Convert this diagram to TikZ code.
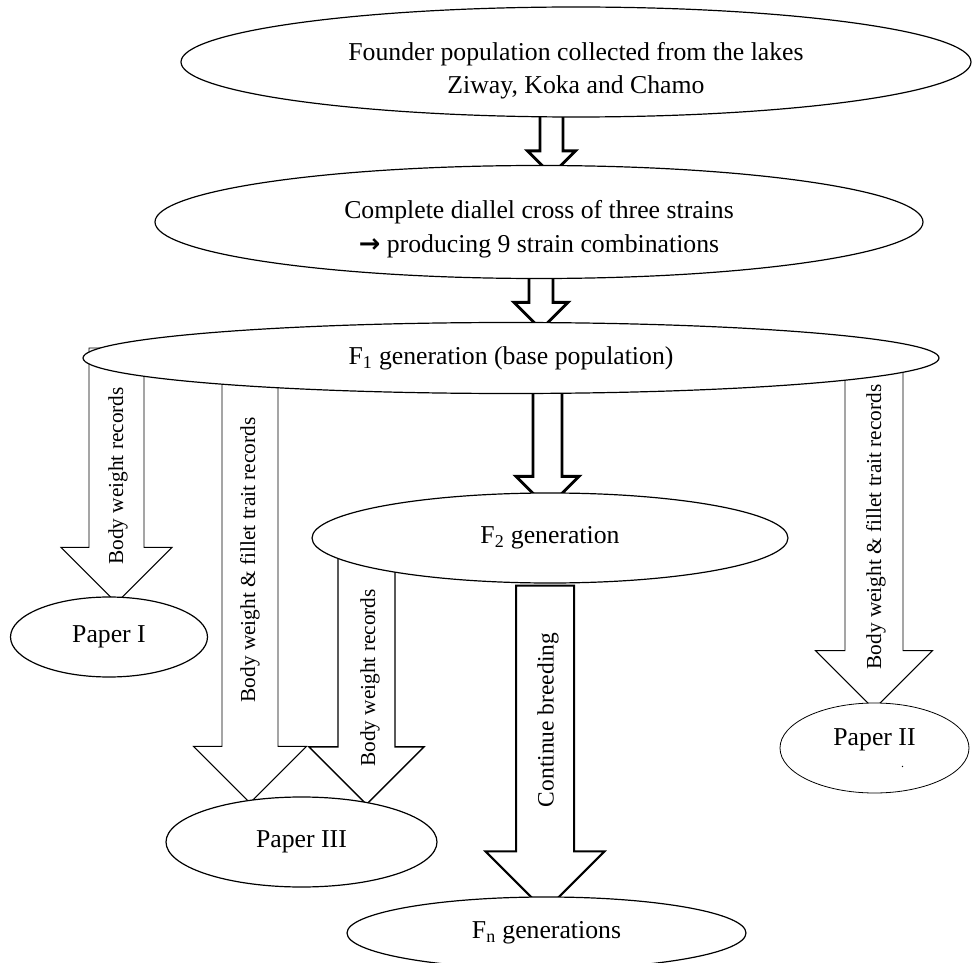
\documentclass[tikz,border=0pt]{standalone}
\usepackage{fontspec}
\setmainfont{Liberation Serif}
\newfontfamily\arrowfont{DejaVu Sans}
\usetikzlibrary{shapes.geometric,calc,backgrounds}

% hollow block arrow: start (only its y is used) and tip
\newcommand{\blockarrow}[5][]{%
 \draw[#1] let \p1=(#2), \p2=(#3) in
  ({\x2-#4*0.75pt},\y1) -- ({\x2-#4*0.75pt},{\y2+#5*0.75pt})
  -- ({\x2-#5*0.75pt},{\y2+#5*0.75pt}) -- (\x2,\y2)
  -- ({\x2+#5*0.75pt},{\y2+#5*0.75pt}) -- ({\x2+#4*0.75pt},{\y2+#5*0.75pt})
  -- ({\x2+#4*0.75pt},\y1) -- cycle;}

\tikzset{
 stage/.style={ellipse,draw,fill=white,line width=0.9pt,inner sep=0pt,
  align=center,font=\fontsize{19.3}{25}\selectfont},
 fat/.style={line width=2.2pt,fill=white,line join=miter},
 flow/.style={line width=0.7pt,fill=white},
 vlabel/.style={rotate=90,inner sep=0pt,font=\fontsize{16}{19}\selectfont},
}

\begin{document}
\begin{tikzpicture}[x=0.75pt,y=-0.75pt]
 \useasboundingbox (0,0) rectangle (972,963);

 \node[stage,minimum width=592.5pt,minimum height=82.5pt] (founder) at (576,62)
  {\rule{0pt}{27pt}Founder population collected from the lakes\\Ziway, Koka and Chamo};
 \node[stage,minimum width=576pt,minimum height=84.75pt] (diallel) at (539,222)
  {\rule{0pt}{24.5pt}Complete diallel cross of three strains\\{\arrowfont\bfseries →} producing 9 strain combinations};
 \node[stage,minimum width=642pt,minimum height=53.25pt] (fone) at (511,358)
  {F\textsubscript{1} generation (base population)};
 \node[stage,minimum width=357pt,minimum height=67.5pt] (ftwo) at (550,538)
  {F\textsubscript{2} generation};
 \node[stage,minimum width=147.75pt,minimum height=60pt] (paperone) at (109,637)
  {Paper I};
 \node[stage,minimum width=203.25pt,minimum height=67.5pt] (paperthree) at (301.5,842)
  {Paper III};
 \node[stage,line width=0.6pt,minimum width=141.75pt,minimum height=67.5pt] (papertwo) at (874.5,748)
  {Paper II\\[-8pt]\hspace*{42pt}{\small .}};
 \node[stage,minimum width=299.25pt,minimum height=54pt] (fn) at (546.5,933)
  {F\textsubscript{n} generations};

 \begin{pgfonlayer}{background}
  \blockarrow[fat]{$(founder.south)+(0,-5)$}{$(diallel.north)+(12.5,10)$}{11.5}{24}
  \blockarrow[fat]{$(diallel.south)+(0,-8)$}{$(fone.north)+(30,7.5)$}{12}{27}
  \blockarrow[fat]{$(fone.south)+(0,-8)$}{$(ftwo.north)+(-2.5,15.5)$}{14.5}{31.5}
  \blockarrow[flow]{$(fone.west)+(0,-10)$}{$(paperone.north)+(7.5,6.5)$}{27.5}{55.5}
  \blockarrow[flow]{fone.center}{$(paperthree.north)+(-51.5,6.5)$}{28}{56.5}
  \blockarrow[flow,line width=1pt]{ftwo.center}{$(paperthree.north)+(65,8)$}{28.5}{57.5}
  \blockarrow[fat,line width=1.5pt]{$(ftwo.south)+(0,2)$}{$(fn.north)+(-1.5,14.5)$}{29}{59.5}
  \blockarrow[flow]{fone.center}{$(papertwo.north)+(-0.5,6.5)$}{29}{58.5}
 \end{pgfonlayer}

 \node[vlabel] (bwone) at (118,476) {Body weight records};
 \node[vlabel] (bwfilletone) at (250,560) {Body weight \& fillet trait records};
 \node[vlabel] (bwtwo) at (370,678) {Body weight records};
 \node[vlabel,font=\fontsize{17.6}{20}\selectfont] (breeding) at (548,720) {Continue breeding};
 \node[vlabel] (bwfillettwo) at (876,527) {Body weight \& fillet trait records};
\end{tikzpicture}
\end{document}
